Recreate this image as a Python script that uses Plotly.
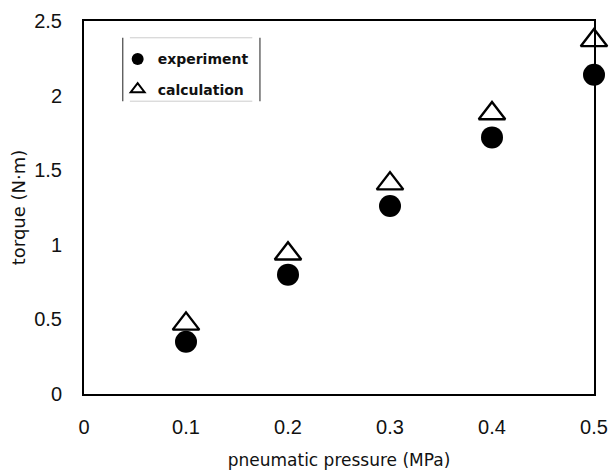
import plotly.graph_objects as go

pressure = [0.1, 0.2, 0.3, 0.4, 0.5]
experiment = [0.35, 0.80, 1.26, 1.72, 2.14]
calculation = [0.47, 0.94, 1.41, 1.88, 2.37]

x_ticks = [0, 0.1, 0.2, 0.3, 0.4, 0.5]
x_tick_text = ["0", "0.1", "0.2", "0.3", "0.4", "0.5"]
y_ticks = [0, 0.5, 1, 1.5, 2, 2.5]
y_tick_text = ["0", "0.5", "1", "1.5", "2", "2.5"]

tick_font = "Liberation Sans Narrow, Liberation Sans, Arial, sans-serif"
title_font = "DejaVu Sans, Liberation Sans, sans-serif"

fig = go.Figure()
fig.add_trace(go.Scatter(
    x=pressure, y=experiment, mode="markers", name="experiment",
    legendgroup="exp",
    marker=dict(symbol="circle", size=22, color="black", line=dict(width=0)),
    cliponaxis=False,
))
fig.add_trace(go.Scatter(
    x=pressure, y=calculation, mode="markers", name="calculation",
    legendgroup="calc",
    marker=dict(symbol="triangle-up", size=23, color="white",
                line=dict(width=2.4, color="black")),
    cliponaxis=False,
))

fig.update_layout(
    width=613, height=471,
    margin=dict(l=84, r=19, t=21, b=77),
    paper_bgcolor="white", plot_bgcolor="white",
    font=dict(family=title_font, color="#111", size=17),
    showlegend=True,
    legend=dict(
        x=0.066, y=0.94, xanchor="left", yanchor="top",
        bgcolor="rgba(255,255,255,0)",
        borderwidth=0,
        font=dict(size=14, family=title_font, color="#111", weight="bold"),
        itemsizing="constant", itemwidth=30, tracegroupgap=9,
    ),
    xaxis=dict(
        range=[0, 0.5], tickvals=x_ticks, ticktext=x_tick_text,
        showline=True, linecolor="black", linewidth=2, mirror=True,
        ticks="", showgrid=False, zeroline=False, automargin=False,
        tickfont=dict(size=20, family=tick_font), ticklabelstandoff=14,
        title=dict(text="pneumatic pressure (MPa)",
                   font=dict(size=17, family=title_font), standoff=17),
    ),
    yaxis=dict(
        range=[0, 2.5], tickvals=y_ticks, ticktext=y_tick_text,
        showline=True, linecolor="black", linewidth=2, mirror=True,
        ticks="", showgrid=False, zeroline=False, automargin=False,
        tickfont=dict(size=20, family=tick_font), ticklabelstandoff=16,
        title=dict(text="torque (N·m)", font=dict(size=18, family=title_font),
                   standoff=4),
    ),
    shapes=[
        dict(type="line", xref="paper", yref="paper", x0=0.076, x1=0.076,
             y0=0.785, y1=0.955, line=dict(color="#444", width=1.2)),
        dict(type="line", xref="paper", yref="paper", x0=0.345, x1=0.345,
             y0=0.785, y1=0.955, line=dict(color="#444", width=1.2)),
        dict(type="line", xref="paper", yref="paper", x0=0.09, x1=0.33,
             y0=0.955, y1=0.955, line=dict(color="#ccc", width=1)),
        dict(type="line", xref="paper", yref="paper", x0=0.09, x1=0.33,
             y0=0.785, y1=0.785, line=dict(color="#ccc", width=1)),
    ],
)

fig.write_html("out.html")
